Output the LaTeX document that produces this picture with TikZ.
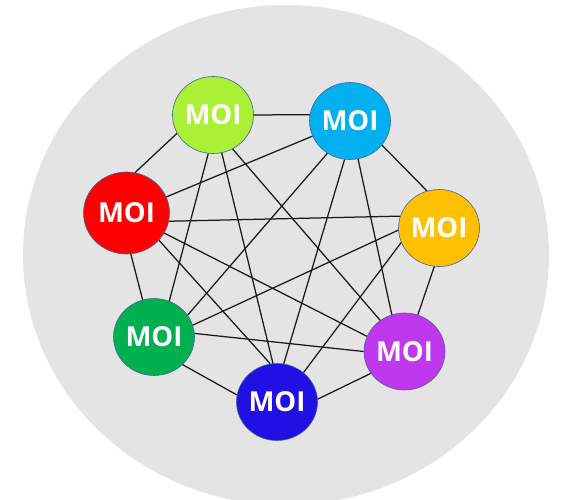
\documentclass[tikz,border=0pt]{standalone}
\usepackage{fontspec}
\setmainfont{Open Sans}
\usetikzlibrary{shapes.geometric}
\definecolor{bggray}{RGB}{228,228,228}
\definecolor{edgeblue}{RGB}{70,100,150}
\definecolor{clime}{RGB}{170,240,55}
\definecolor{ccyan}{RGB}{0,176,240}
\definecolor{cred}{RGB}{255,0,0}
\definecolor{corange}{RGB}{255,192,0}
\definecolor{cgreen}{RGB}{0,176,80}
\definecolor{cpurple}{RGB}{191,56,238}
\definecolor{cblue}{RGB}{32,16,228}
\begin{document}
\begin{tikzpicture}[x=1pt,y=-1pt,
  moi/.style={ellipse, draw=edgeblue, line width=0.6pt, minimum width=81pt, minimum height=77pt,
    inner sep=0pt, text=white, font=\bfseries\fontsize{27.5}{27.5}\selectfont},
  link/.style={line width=1.25pt, draw=black!90}]
\useasboundingbox (0,0) rectangle (565,500);
\clip (0,0) rectangle (565,500);
\fill[bggray] (286,255) ellipse [x radius=263, y radius=250];
\node[moi, fill=clime]   (L) at (213,115) {MOI};
\node[moi, fill=ccyan]   (C) at (350,121) {MOI};
\node[moi, fill=cred, minimum width=86pt, minimum height=82pt] (R) at (126.5,213) {MOI};
\node[moi, fill=corange] (O) at (439,228) {MOI};
\node[moi, fill=cgreen]  (G) at (154,337) {MOI};
\node[moi, fill=cpurple] (P) at (404.5,351.5) {MOI};
\node[moi, fill=cblue]   (B) at (277,402) {MOI};
\draw[link] (L.0) -- (C.171);
\draw[link] (L.207) -- (R.78);
\draw[link] (C.202) -- (R.22);
\draw[link] (R.349) -- (O.163);
\draw[link] (C.-37) -- (O.108);
\draw[link] (L.263) -- (G.67);
\draw[link] (L.-77) -- (B.96);
\draw[link] (L.-60) -- (P.128);
\draw[link] (C.235) -- (G.33);
\draw[link] (C.262) -- (B.80);
\draw[link] (C.-78) -- (P.109);
\draw[link] (O.183) -- (G.17);
\draw[link] (O.201) -- (B.48);
\draw[link] (O.263) -- (P.70);
\draw[link] (R.276) -- (G.107);
\draw[link] (R.-40) -- (B.100);
\draw[link] (R.-28) -- (P.158);
\draw[link] (G.5) -- (P.180);
\draw[link] (G.-44) -- (B.170);
\draw[link] (P.213) -- (B.4);
\end{tikzpicture}
\end{document}
